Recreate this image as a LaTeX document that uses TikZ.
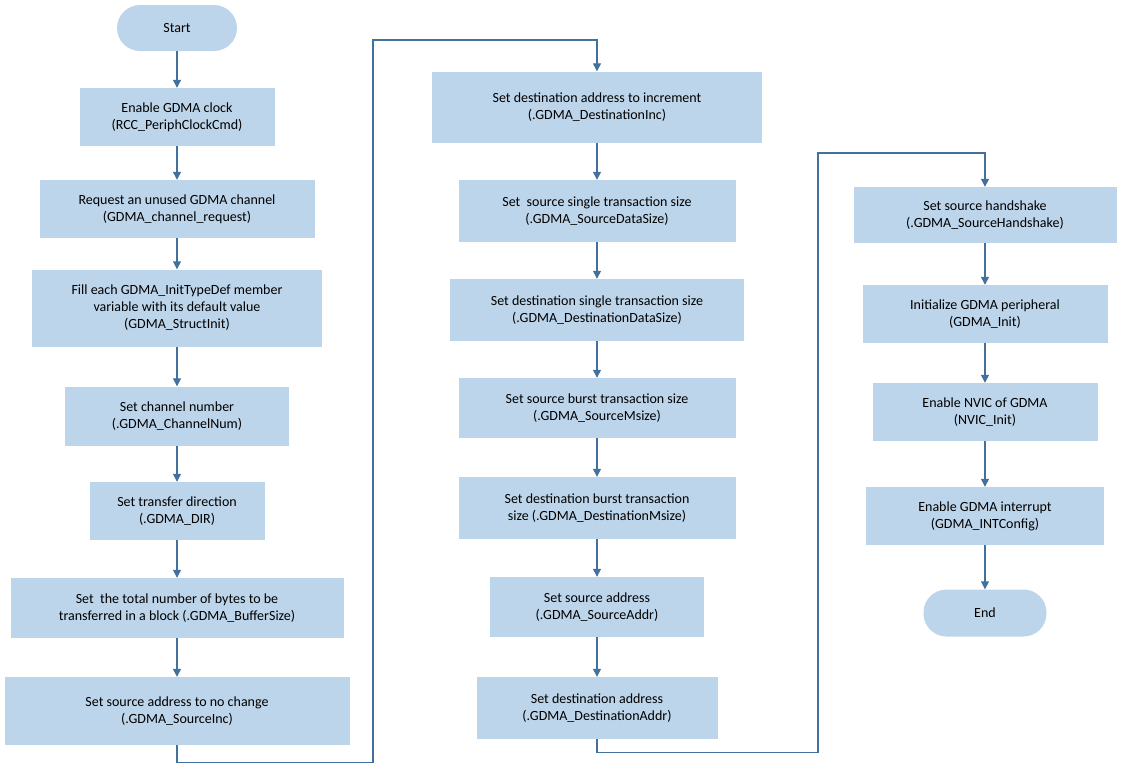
\documentclass[tikz,border=0pt]{standalone}
\usepackage{fontspec}
\setmainfont{Carlito}
\usetikzlibrary{arrows.meta}
\definecolor{boxfill}{HTML}{BDD5EA}
\definecolor{linec}{HTML}{41719C}
\begin{document}
\begin{tikzpicture}[x=1pt,y=-1pt,
  box/.style={draw=none,fill=boxfill,align=center,inner sep=0pt,font=\fontsize{14}{17}\selectfont,text=black},
  pill/.style={box,rounded corners=23pt},
  arr/.style={draw=linec,line width=1.3pt,-{Triangle[length=8pt,width=8pt]}}]
\useasboundingbox (0,0) rectangle (1122,772);
\newcommand{\bx}[6]{\node[#1,minimum width=#4pt,minimum height=#5pt] (#2) at #3 {#6};}
\bx{pill}{s}{(177,28)}{120}{46}{Start}
\bx{box}{a1}{(177,117)}{195}{58}{Enable GDMA clock\\(RCC\_PeriphClockCmd)}
\bx{box}{a2}{(177,209)}{275}{58}{Request an unused GDMA channel\\(GDMA\_channel\_request)}
\bx{box}{a3}{(177,308)}{290}{77}{Fill each GDMA\_InitTypeDef member\\variable with its default value\\(GDMA\_StructInit)}
\bx{box}{a4}{(177,416)}{224}{59}{Set channel number\\(.GDMA\_ChannelNum)}
\bx{box}{a5}{(177,511)}{175}{58}{Set transfer direction\\(.GDMA\_DIR)}
\bx{box}{a6}{(177,608)}{333}{60}{Set~ the total number of bytes to be\\transferred in a block (.GDMA\_BufferSize)}
\bx{box}{a7}{(177,711)}{345}{68}{Set source address to no change\\(.GDMA\_SourceInc)}
\bx{box}{b1}{(597,107)}{330}{71}{Set destination address to increment\\(.GDMA\_DestinationInc)}
\bx{box}{b2}{(597,211)}{277}{62}{Set~ source single transaction size\\(.GDMA\_SourceDataSize)}
\bx{box}{b3}{(597,310)}{294}{62}{Set destination single transaction size\\(.GDMA\_DestinationDataSize)}
\bx{box}{b4}{(597,408)}{277}{60}{Set source burst transaction size\\(.GDMA\_SourceMsize)}
\bx{box}{b5}{(597,508)}{277}{62}{Set destination burst transaction\\size (.GDMA\_DestinationMsize)}
\bx{box}{b6}{(597,607)}{214}{60}{Set source address\\(.GDMA\_SourceAddr)}
\bx{box}{b7}{(597,708)}{241}{62}{Set destination address\\(.GDMA\_DestinationAddr)}
\bx{box}{c1}{(985,215)}{263}{56}{Set source handshake\\(.GDMA\_SourceHandshake)}
\bx{box}{c2}{(985,314)}{245}{58}{Initialize GDMA peripheral\\(GDMA\_Init)}
\bx{box}{c3}{(985,412)}{225}{58}{Enable NVIC of GDMA\\(NVIC\_Init)}
\bx{box}{c4}{(985,516)}{238}{58}{Enable GDMA interrupt\\(GDMA\_INTConfig)}
\bx{pill}{e}{(985,613)}{123}{47}{End}
\foreach \p/\q in {s/a1,a1/a2,a2/a3,a3/a4,a4/a5,a5/a6,a6/a7,b1/b2,b2/b3,b3/b4,b4/b5,b5/b6,b6/b7,c1/c2,c2/c3,c3/c4,c4/e}
  \draw[arr] (\p) -- (\q);
\draw[arr] (a7.south) -- ++(0,17) -| (373,40) -| (b1.north);
\draw[arr] (b7.south) -- ++(0,13) -| (818,153) -| (c1.north);
\end{tikzpicture}
\end{document}
